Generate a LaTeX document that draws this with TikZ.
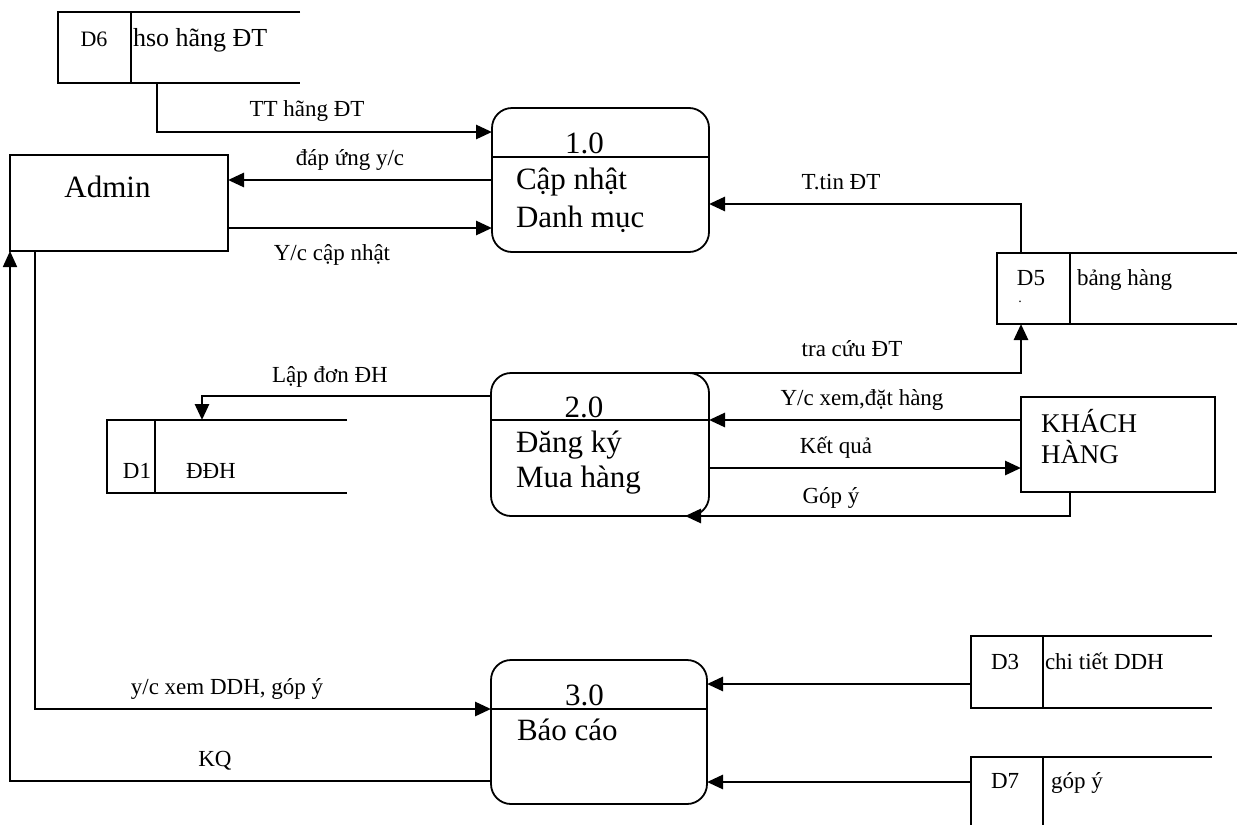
\documentclass[tikz,border=0pt]{standalone}
\usepackage{fontspec}
\setmainfont{Liberation Serif}
\usetikzlibrary{arrows.meta,calc}
\newcommand\myfs[1]{\fontsize{#1pt}{#1pt}\selectfont}
\tikzset{
  frame/.style={line width=1.8pt},
  holder/.style={anchor=north west, inner sep=0pt, outer sep=0pt},
  entbox/.style={holder, draw, line width=1.8pt},
  procbox/.style={holder, draw, line width=1.8pt, rounded corners=20pt},
  arr/.style={line width=2.8pt, -{Triangle[length=16pt,width=14pt]}},
  thinarr/.style={line width=1.8pt, -{Triangle[length=16pt,width=14pt]}},
  txt/.style={anchor=base, inner sep=0pt, outer sep=0pt},
  txtw/.style={anchor=base west, inner sep=0pt, outer sep=0pt},
  lbl/.style={txt, font=\myfs{23}},
  stxt/.style={font=\myfs{23}},
  ptxt/.style={font=\myfs{31}},
}
\begin{document}
\begin{tikzpicture}[x=1pt,y=-1pt]
\useasboundingbox (0,0) rectangle (1240,825);

% helper coordinates
\coordinate (x131) at (131,0);
\coordinate (x155) at (155,0);
\coordinate (x157) at (157,0);
\coordinate (x202) at (202,0);
\coordinate (x35) at (35,0);
\coordinate (x683) at (683,0);
\coordinate (x685) at (685,0);
\coordinate (x1021) at (1021,0);
\coordinate (x1043) at (1043,0);
\coordinate (x1070) at (1070,0);
\coordinate (y132) at (0,132);
\coordinate (y157) at (0,157);
\coordinate (y180) at (0,180);
\coordinate (y204) at (0,204);
\coordinate (y228) at (0,228);
\coordinate (y396) at (0,396);
\coordinate (y420) at (0,420);
\coordinate (y468) at (0,468);
\coordinate (y684) at (0,684);
\coordinate (y709) at (0,709);
\coordinate (y781) at (0,781);
\coordinate (y782) at (0,782);

% ---------- data stores ----------
\node[holder, minimum width=242pt, minimum height=71pt] (d6) at (58,12) {};
\draw[frame] (d6.north east) -- (d6.north west) -- (d6.south west) -- (d6.south east);
\draw[frame] (d6.north west -| x131) -- (d6.south west -| x131);
\node[txt, font=\myfs{22}] (d6id) at (94,46) {D6};
\node[txtw, font=\myfs{26}] (d6nm) at (133,46) {hso hãng ĐT};

\node[holder, minimum width=240pt, minimum height=71pt] (d5) at (997,253) {};
\draw[frame] (d5.north east) -- (d5.north west) -- (d5.south west) -- (d5.south east);
\draw[frame] (d5.north west -| x1070) -- (d5.south west -| x1070);
\node[txt, stxt] (d5id) at (1031,285) {D5};
\node[txt, font=\myfs{14}] (d5dot) at (1020,302) {.};
\node[txtw, stxt] (d5nm) at (1077,285) {bảng hàng};

\node[holder, minimum width=240pt, minimum height=73pt] (d1) at (107,420) {};
\draw[frame] (d1.north east) -- (d1.north west) -- (d1.south west) -- (d1.south east);
\draw[frame] (d1.north west -| x155) -- (d1.south west -| x155);
\node[txt, stxt] (d1id) at (137,478) {D1};
\node[txtw, stxt] (d1nm) at (186,478) {ĐĐH};

\node[holder, minimum width=241pt, minimum height=72pt] (d3) at (971,636) {};
\draw[frame] (d3.north east) -- (d3.north west) -- (d3.south west) -- (d3.south east);
\draw[frame] (d3.north west -| x1043) -- (d3.south west -| x1043);
\node[txtw, stxt] (d3id) at (991,669) {D3};
\node[txtw, stxt] (d3nm) at (1045,669) {chi tiết DDH};

\node[holder, minimum width=241pt, minimum height=68pt] (d7) at (971,757) {};
\draw[frame] (d7.north east) -- (d7.north west) -- (d7.south west);
\draw[frame] (d7.north west -| x1043) -- (d7.south west -| x1043);
\node[txtw, stxt] (d7id) at (991,788) {D7};
\node[txtw, stxt] (d7nm) at (1051,788) {góp ý};

% ---------- external entities ----------
\node[entbox, minimum width=218pt, minimum height=96pt] (admin) at (10,155) {};
\node[txt, ptxt] (admintxt) at (107.5,197) {Admin};

\node[entbox, minimum width=194pt, minimum height=95pt] (kh) at (1021,397) {};
\node[txtw, font=\myfs{27}] (kh1) at (1041,432) {KHÁCH};
\node[txtw, font=\myfs{27}] (kh2) at (1041,463) {HÀNG};

% ---------- processes ----------
\node[procbox, minimum width=217pt, minimum height=144pt] (p1) at (492,108) {};
\draw[frame] (p1.west |- y157) -- (p1.east |- y157);
\node[txt, ptxt] (p1n) at (584.5,153) {1.0};
\node[txtw, ptxt] (p1a) at (516,189) {Cập nhật};
\node[txtw, ptxt] (p1b) at (516,227) {Danh mục};

\node[procbox, minimum width=218pt, minimum height=143pt] (p2) at (491,373) {};
\draw[frame] (p2.west |- y420) -- (p2.east |- y420);
\node[txt, ptxt] (p2n) at (584,417) {2.0};
\node[txtw, ptxt] (p2a) at (516,452) {Đăng ký};
\node[txtw, ptxt] (p2b) at (516,487) {Mua hàng};

\node[procbox, minimum width=216pt, minimum height=144pt] (p3) at (491,660) {};
\draw[frame] (p3.west |- y709) -- (p3.east |- y709);
\node[txt, ptxt] (p3n) at (584.5,705) {3.0};
\node[txtw, ptxt] (p3a) at (517,740) {Báo cáo};

% ---------- flows ----------
\draw[arr] (d6.south west -| x157) |- (p1.west |- y132);
\node[lbl] (l1) at (307,116) {TT hãng ĐT};

\draw[arr] (p1.west |- y180) -- (admin.east |- y180);
\node[lbl] (l2) at (350,165) {đáp ứng y/c};

\draw[arr] (admin.east |- y228) -- (p1.west |- y228);
\node[lbl] (l3) at (332,260) {Y/c cập nhật};

\draw[arr] (d5.north west -| x1021) |- (p1.east |- y204);
\node[lbl] (l4) at (841,189) {T.tin ĐT};

\draw[arr] (p2.north west -| x683) -- (p2.north west -| x1021) -- (d5.south west -| x1021);
\node[lbl] (l5) at (852,356) {tra cứu ĐT};

\draw[arr] (kh.west |- y420) -- (p2.east |- y420);
\node[lbl] (l6) at (862,405) {Y/c xem,đặt hàng};

\draw[arr] (p2.east |- y468) -- (kh.west |- y468);
\node[lbl] (l7) at (836,453) {Kết quả};

\draw[arr] (kh.south west -| x1070) |- (p2.south west -| x685);
\node[lbl] (l8) at (831,503) {Góp ý};

\draw[arr] (p2.west |- y396) -| (d1.north west -| x202);
\node[lbl] (l9) at (330,382) {Lập đơn ĐH};

\draw[arr] (admin.south west -| x35) |- (p3.west |- y709);
\node[lbl] (l10) at (227,694) {y/c xem DDH, góp ý};

\draw[thinarr] (p3.west |- y781) -| (admin.south west);
\node[lbl] (l11) at (215,766) {KQ};

\draw[arr] (d3.west |- y684) -- (p3.east |- y684);
\draw[arr] (d7.west |- y782) -- (p3.east |- y782);
\end{tikzpicture}
\end{document}
